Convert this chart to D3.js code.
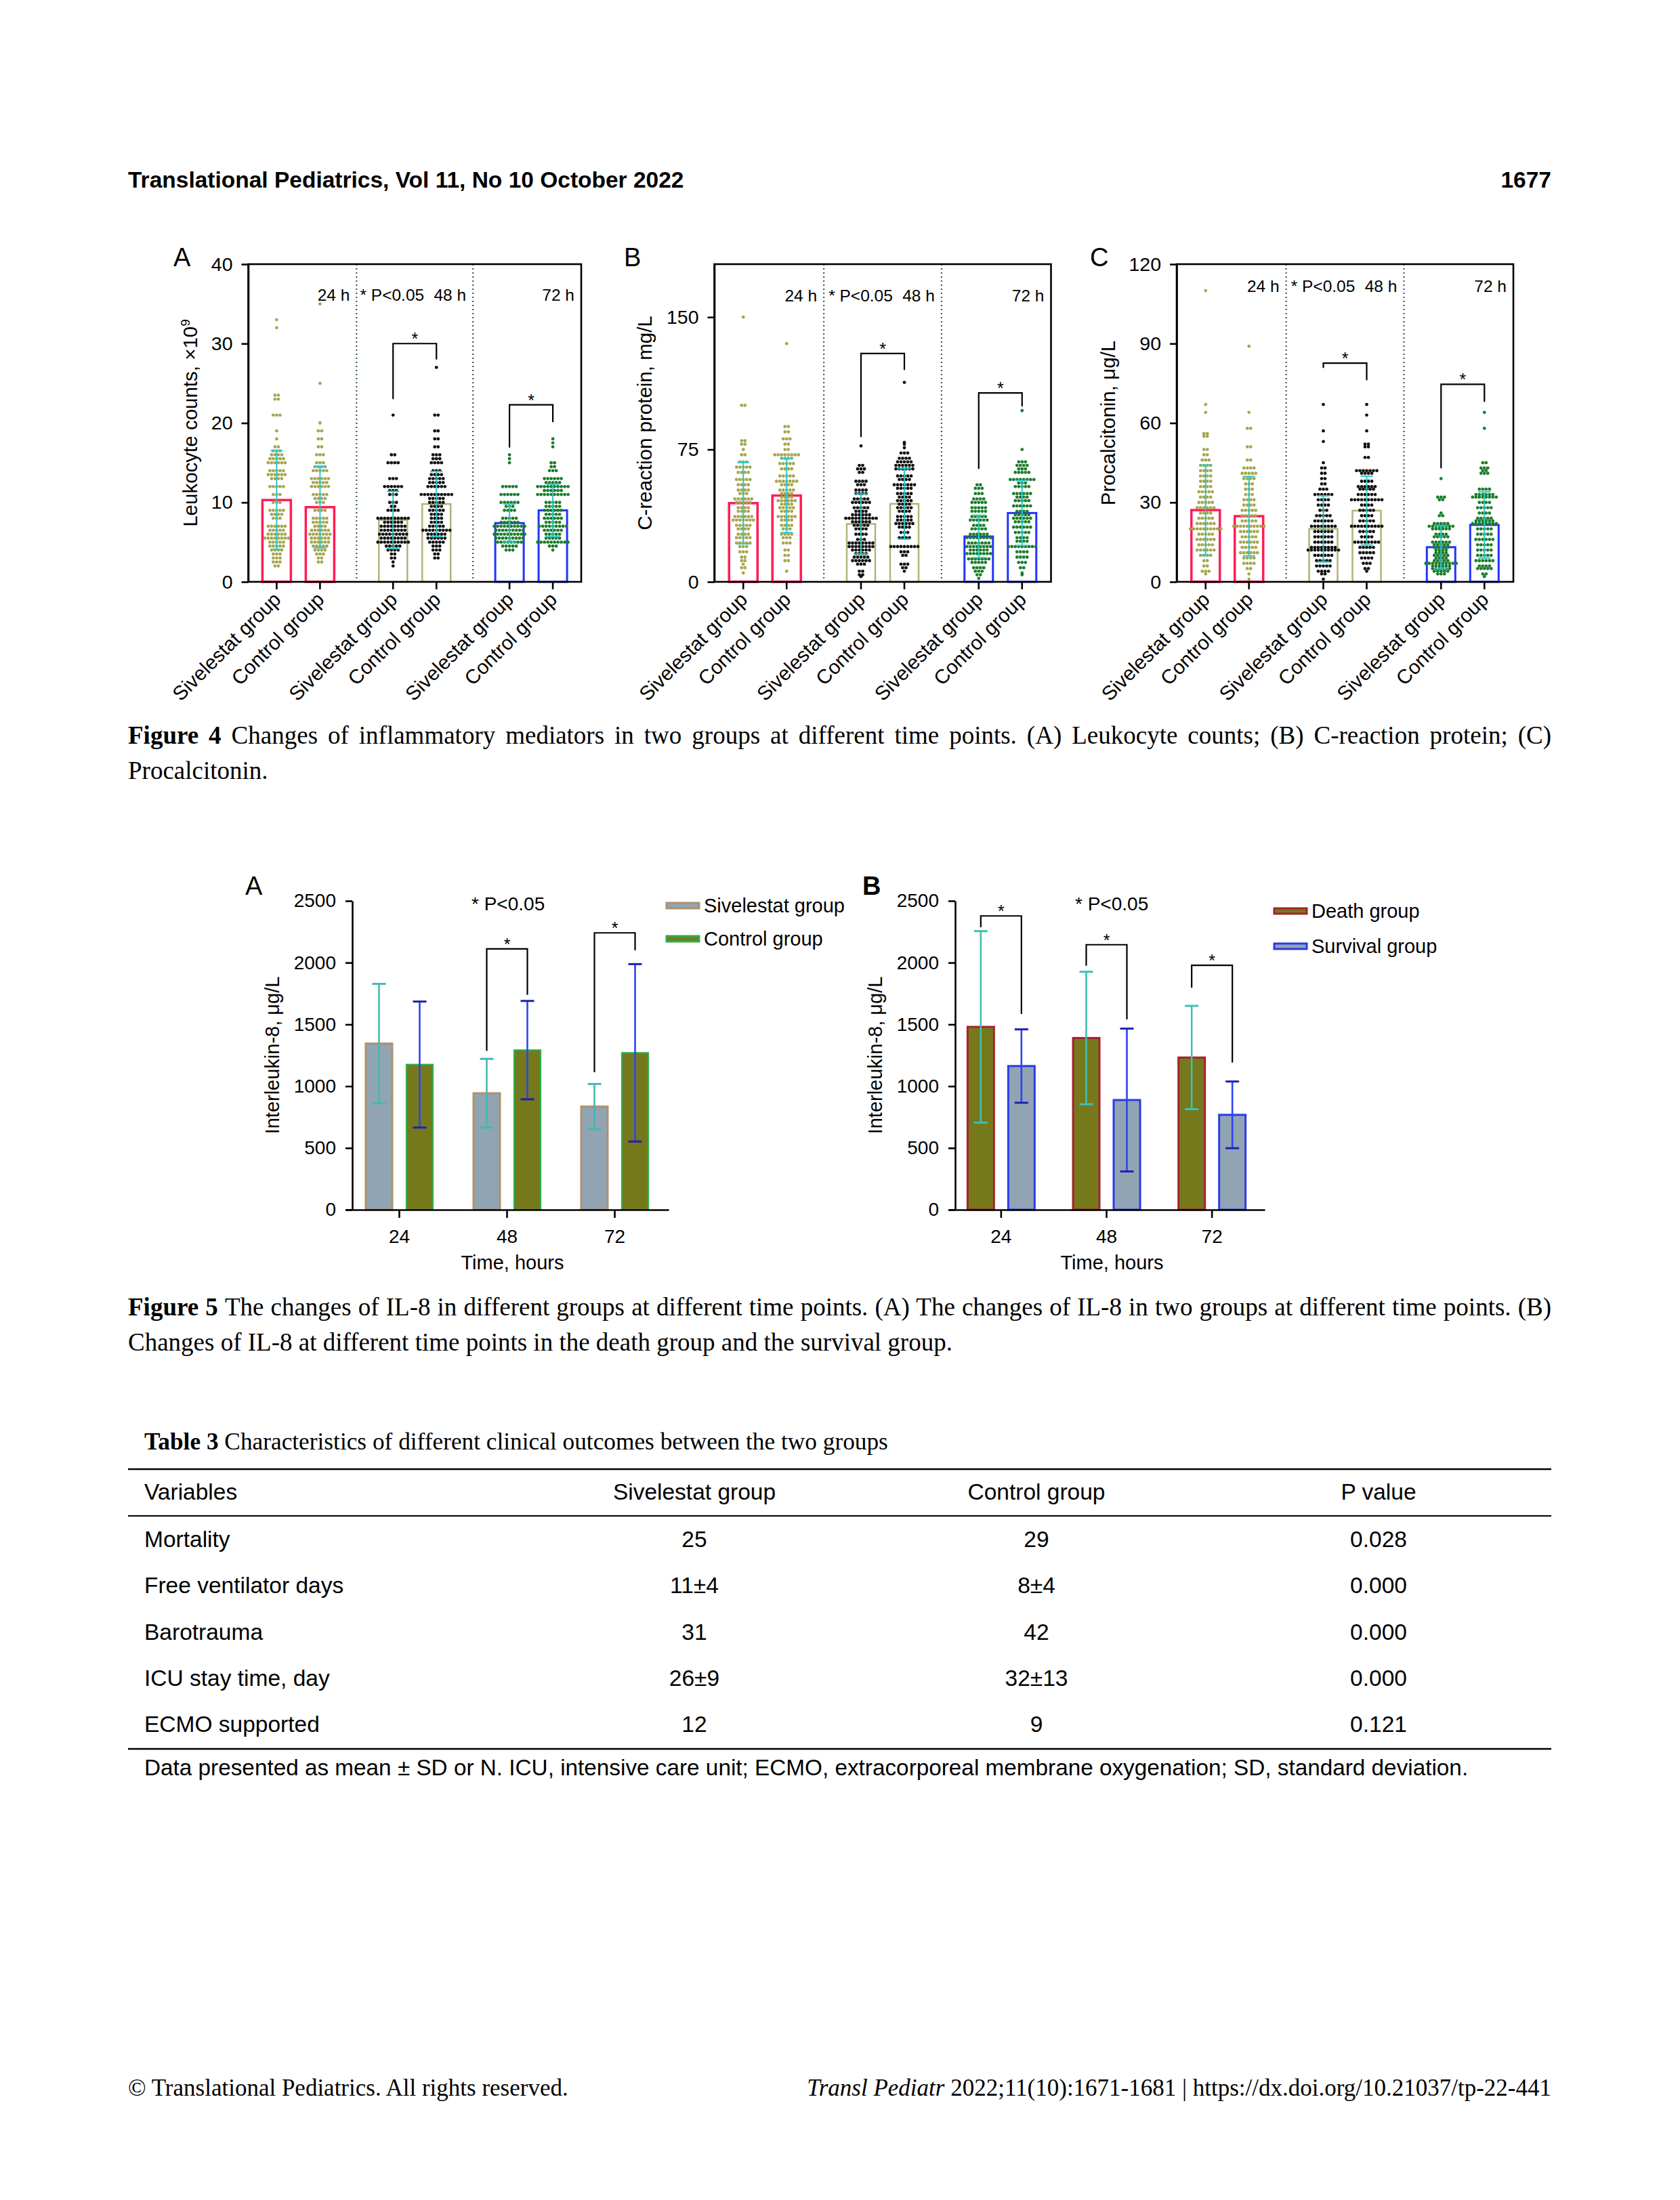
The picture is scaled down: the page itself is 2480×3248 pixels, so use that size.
<!DOCTYPE html>
<html>
<head>
<meta charset="utf-8">
<script src="https://cdn.jsdelivr.net/npm/d3@7"></script>
<style>
body{margin:0;background:#fff;}
svg{display:block;}
</style>
</head>
<body>
<script>
const SANS = 'Liberation Sans, Arial, Helvetica, sans-serif';
const SERIF = 'Liberation Serif, Times New Roman, serif';

// FIGURE 4 DATA
const timePoints = ['24 h', '48 h', '72 h'];
const groupNames = ['Sivelestat group', 'Control group'];

const leukTicks = [0, 10, 20, 30, 40];
const leukMeans = [[10.3, 9.4], [7.8, 9.8], [7.4, 9.0]];
const leukSD = [[6.2, 5.1], [3.6, 4.1], [2.4, 3.3]];
// [value, number of patients]
const leukSiv24 = [[33,1],[32,1],[23.5,2],[23,2],[21,3],[19,1],[18,1],[17,2],[16.5,3],[16,4],[15.5,5],[15,6],[14,5],[13.5,6],[13,4],[12,5],[11,3],[10,3],[9,5],[8.5,4],[8,3],[7,6],[6.5,5],[6,6],[5.5,8],[5,5],[4.5,5],[4,4],[3.5,3],[3,3],[2.5,3],[2,2]];
const leukCtrl24 = [[35,1],[25,1],[20,1],[19,2],[18,2],[17,2],[16,3],[15,3],[14.5,4],[14,5],[13,6],[12.5,5],[12,6],[11,5],[10.5,4],[10,3],[9,4],[8,5],[7.5,5],[7,4],[6.5,6],[6,7],[5.5,6],[5,6],[4.5,5],[4,4],[3.5,3],[3,2],[2.5,2]];
const leukSiv48 = [[21,1],[16,2],[15,4],[13,3],[12,6],[11.5,3],[11,3],[10,3],[9.5,2],[9,4],[8,10],[7.5,6],[7,8],[6.5,8],[6,9],[5.5,8],[5,10],[4.5,5],[4,4],[3.5,2],[3,2],[2.5,1],[2,1]];
const leukCtrl48 = [[27,1],[21,2],[19,2],[18,2],[17,2],[16,3],[15.5,3],[15,4],[14,3],[13.5,4],[13,5],[12.5,5],[12,6],[11,10],[10.5,5],[10,5],[9.5,4],[9,5],[8.5,4],[8,4],[7.5,4],[7,5],[6.5,9],[6,6],[5.5,6],[5,5],[4.5,3],[4,3],[3.5,2],[3,2]];
const leukSiv72 = [[16,1],[15.5,1],[15,1],[12,5],[11,6],[10,6],[9.5,3],[9,4],[8,5],[7.5,6],[7,10],[6.5,9],[6,10],[5.5,9],[5,8],[4.5,5],[4,3]];
const leukCtrl72 = [[18,1],[17.5,1],[17,1],[15,2],[14.5,2],[14,3],[13,6],[12.5,5],[12,10],[11.5,6],[11,10],[10,5],[9.5,5],[9,6],[8.5,5],[8,6],[7.5,5],[7,9],[6.5,6],[6,5],[5.5,5],[5,10],[4.5,3],[4,1]];
// [time index, bracket top, left leg end, right leg end]
const leukBrackets = [[1, 30, 23, 28], [2, 22.3, 16.9, 20.1]];

const crpTicks = [0, 75, 150];
const crpMeans = [[44.6, 48.9], [32.8, 44.2], [25.7, 39]];
const crpSD = [[23, 21], [17, 20], [12, 18.4]];
const crpSiv24 = [[150,1],[100,2],[80,2],[78,2],[75,1],[72,2],[68,3],[65,5],[62,4],[58,5],[55,4],[52,4],[50,3],[47,6],[45,5],[42,4],[40,4],[37,6],[35,7],[32,5],[30,4],[27,4],[25,5],[22,5],[20,3],[17,3],[14,2],[12,2],[10,1],[8,2],[5,1]];
const crpCtrl24 = [[135,1],[88,2],[85,2],[81,3],[78,2],[75,2],[72,8],[70,4],[67,5],[64,4],[60,5],[57,7],[55,4],[52,5],[50,4],[48,4],[46,6],[44,4],[42,5],[40,4],[37,6],[35,4],[32,4],[30,3],[27,4],[25,3],[22,3],[18,2],[15,2],[12,2],[6,1]];
const crpSiv48 = [[77,1],[66,2],[64,3],[62,2],[57,4],[55,3],[52,4],[50,4],[47,5],[45,6],[42,5],[40,4],[38,6],[36,10],[34,6],[32,5],[30,4],[27,4],[24,3],[22,8],[20,8],[18,6],[16,4],[14,5],[12,6],[10,3],[6,2],[4,2],[3,1]];
const crpCtrl48 = [[113,1],[79,1],[78,1],[76,1],[73,3],[70,4],[68,5],[66,6],[64,6],[60,5],[58,4],[55,7],[53,5],[50,5],[48,4],[46,5],[44,4],[42,5],[40,4],[37,5],[35,5],[33,6],[31,4],[28,3],[25,4],[20,9],[17,3],[15,2],[10,3],[8,2],[6,1]];
const crpSiv72 = [[55,2],[53,3],[50,3],[47,4],[45,5],[42,5],[40,5],[37,5],[35,6],[32,4],[30,5],[27,6],[25,8],[22,7],[20,8],[18,6],[16,8],[13,7],[11,5],[8,4],[6,3],[4,2],[2,1]];
const crpCtrl72 = [[97,1],[75,1],[68,3],[66,4],[64,3],[62,5],[58,8],[56,3],[54,5],[50,6],[48,4],[46,5],[43,6],[40,4],[38,5],[36,6],[34,5],[31,6],[28,5],[25,4],[23,4],[20,9],[17,4],[14,4],[11,3],[8,2],[5,1],[4,1]];
const crpBrackets = [[1, 129.4, 82, 120], [2, 107, 64, 99.4]];

const pctTicks = [0, 30, 60, 90, 120];
const pctMeans = [[27.1, 24.8], [20, 26.9], [13.1, 21.5]];
const pctSD = [[17, 15], [12.5, 13], [8, 12.5]];
const pctSiv24 = [[110,1],[67,1],[64,1],[56,2],[55,2],[50,2],[48,2],[46,3],[44,4],[42,4],[40,4],[38,4],[36,4],[34,5],[32,4],[30,5],[28,6],[26,4],[24,5],[22,6],[20,10],[18,5],[16,6],[14,5],[12,6],[10,4],[8,2],[6,2],[4,3],[3,1]];
const pctCtrl24 = [[89,1],[64,1],[58,2],[51,2],[46,2],[43,4],[41,5],[39,4],[37,3],[35,3],[33,3],[31,4],[29,4],[27,5],[25,5],[23,5],[21,10],[19,6],[17,5],[15,6],[13,5],[11,6],[9,4],[7,4],[5,2],[3,1],[1,1]];
const pctSiv48 = [[67,1],[57,1],[53,1],[45,1],[43,2],[41,2],[39,2],[37,2],[35,3],[33,6],[31,4],[29,4],[27,3],[25,5],[23,6],[21,8],[19,6],[17,6],[15,6],[13,8],[12,10],[10,6],[8,5],[6,5],[4,4],[3,2],[1,1]];
const pctCtrl48 = [[67,1],[63,1],[57,1],[52,2],[51,2],[47,2],[42,7],[41,4],[38,4],[36,6],[35,5],[33,6],[31,10],[29,4],[27,5],[25,4],[23,5],[21,10],[19,5],[17,4],[15,8],[13,5],[11,5],[9,4],[7,3],[5,2],[4,1]];
const pctSiv72 = [[39,1],[32,3],[31,2],[26,1],[25,2],[22,5],[21,8],[20,6],[18,4],[17,5],[15,6],[14,5],[13,5],[12,4],[11,4],[10,5],[9,4],[8,5],[7,10],[6,6],[5,6],[4,5],[3,3]];
const pctCtrl72 = [[64,1],[58,1],[45,2],[43,3],[42,2],[41,3],[35,4],[33,6],[32,8],[30,4],[28,5],[26,4],[24,5],[23,6],[22,8],[20,5],[18,5],[16,6],[14,5],[12,5],[10,5],[8,6],[6,4],[5,5],[3,2],[2,1]];
const pctBrackets = [[1, 82.6, 80.8, 76.2], [2, 74.6, 42.9, 68]];

// FIGURE 5 DATA
const il8Times = ['24', '48', '72'];
const il8Ticks = [0, 500, 1000, 1500, 2000, 2500];
const il8SivMean = [1345, 943, 835];
const il8SivSD = [483, 278, 183];
const il8CtrlMean = [1175, 1292, 1270];
const il8CtrlSD = [510, 398, 718];
const il8DeathMean = [1480, 1390, 1232];
const il8DeathSD = [775, 536, 418];
const il8SurvMean = [1163, 888, 768];
const il8SurvSD = [297, 578, 270];
const il8GroupBrackets = [[1, 2111, 1286, 1739], [2, 2241, 1113, 2100]];
const il8OutcomeBrackets = [[0, 2378, 2286, 1585], [1, 2145, 1975, 1540], [2, 1979, 1797, 1191]];

// TABLE 3 DATA
const tableHead = ['Variables', 'Sivelestat group', 'Control group', 'P value'];
const tableVars = ['Mortality', 'Free ventilator days', 'Barotrauma', 'ICU stay time, day', 'ECMO supported'];
const tableSiv = ['25', '11±4', '31', '26±9', '12'];
const tableCtrl = ['29', '8±4', '42', '32±13', '9'];
const tablePval = ['0.028', '0.000', '0.000', '0.000', '0.121'];

const svg = d3.select('body').append('svg')
    .attr('width', 2480)
    .attr('height', 3248)
    .style('background', '#fff');

// PAGE HEADER
svg.append('text')
    .attr('x', 189).attr('y', 277)
    .attr('font-family', SANS).attr('font-weight', 'bold').attr('font-size', 33.5)
    .text('Translational Pediatrics, Vol 11, No 10 October 2022');
svg.append('text')
    .attr('x', 2290).attr('y', 277).attr('text-anchor', 'end')
    .attr('font-family', SANS).attr('font-weight', 'bold').attr('font-size', 33.5)
    .text('1677');

const barColors = ['#ff1d52', '#b4b27a', '#2233ff'];
const barStrokes = [3.5, 2.5, 3];
const dotColors = ['#a6a650', '#111111', '#1b7d2b'];
const errColor = '#2ec8c8';

function drawScatterPanel(p) {
    const top = 390, bottom = 859;
    const g = svg.append('g');

    const x0 = d3.scalePoint().domain(timePoints).range([p.left, p.right]).padding(0.43);
    const x1 = d3.scalePoint().domain(groupNames).range([-32, 32]);
    const y = d3.scaleLinear().domain([0, p.yMax]).range([bottom, top]);
    const cx = (t, k) => x0(timePoints[t]) + x1(groupNames[k]);
    const sepX = i => (x0(timePoints[i]) + x0(timePoints[i + 1])) / 2;

    const cells = [];
    p.means.forEach((pair, t) => {
        pair.forEach((m, k) => {
            cells.push({t: t, k: k, mean: m, sd: p.sds[t][k], dots: p.dots[t][k]});
        });
    });

    g.selectAll('.sep')
        .data([0, 1])
        .enter()
        .append('line')
        .attr('x1', sepX).attr('x2', sepX)
        .attr('y1', top).attr('y2', bottom)
        .attr('stroke', '#3d5a66')
        .attr('stroke-width', 2.2)
        .attr('stroke-dasharray', '2 4');

    g.selectAll('.bar')
        .data(cells)
        .enter()
        .append('rect')
        .attr('x', d => cx(d.t, d.k) - 21)
        .attr('width', 42)
        .attr('y', d => y(d.mean))
        .attr('height', d => bottom - y(d.mean))
        .attr('fill', 'none')
        .attr('stroke', d => barColors[d.t])
        .attr('stroke-width', d => barStrokes[d.t]);

    cells.forEach(c => {
        const pts = [];
        c.dots.forEach(([v, n]) => {
            for (let i = 0; i < n; i++) pts.push({v: v, off: (i - (n - 1) / 2) * 5});
        });
        g.selectAll(null)
            .data(pts)
            .enter()
            .append('circle')
            .attr('cx', d => cx(c.t, c.k) + d.off)
            .attr('cy', d => y(d.v))
            .attr('r', 2.4)
            .attr('fill', dotColors[c.t]);
    });

    // MEAN +/- SD
    const err = g.selectAll('.err').data(cells).enter().append('g');
    err.append('line')
        .attr('x1', d => cx(d.t, d.k)).attr('x2', d => cx(d.t, d.k))
        .attr('y1', d => y(d.mean - d.sd)).attr('y2', d => y(d.mean + d.sd));
    err.append('line')
        .attr('x1', d => cx(d.t, d.k) - 9).attr('x2', d => cx(d.t, d.k) + 9)
        .attr('y1', d => y(d.mean + d.sd)).attr('y2', d => y(d.mean + d.sd));
    err.append('line')
        .attr('x1', d => cx(d.t, d.k) - 9).attr('x2', d => cx(d.t, d.k) + 9)
        .attr('y1', d => y(d.mean - d.sd)).attr('y2', d => y(d.mean - d.sd));
    err.selectAll('line').attr('stroke', errColor).attr('stroke-width', 2);

    g.append('rect')
        .attr('x', p.left).attr('y', top)
        .attr('width', p.right - p.left).attr('height', bottom - top)
        .attr('fill', 'none').attr('stroke', '#000').attr('stroke-width', 2.6);

    const yAxis = g.append('g')
        .attr('transform', `translate(${p.left},0)`)
        .call(d3.axisLeft(y).tickValues(p.ticks).tickSize(10).tickSizeOuter(0).tickPadding(13));
    yAxis.selectAll('path, line').attr('stroke', '#000').attr('stroke-width', 2.6);
    yAxis.selectAll('text').attr('font-family', SANS).attr('font-size', 28.5).attr('fill', '#000');

    g.selectAll('.xtick')
        .data(cells)
        .enter()
        .append('line')
        .attr('x1', d => cx(d.t, d.k)).attr('x2', d => cx(d.t, d.k))
        .attr('y1', bottom).attr('y2', bottom + 11)
        .attr('stroke', '#000').attr('stroke-width', 2.6);

    g.selectAll('.xlab')
        .data(cells)
        .enter()
        .append('text')
        .attr('transform', d => `translate(${cx(d.t, d.k) + 8},${bottom + 28}) rotate(-45)`)
        .attr('text-anchor', 'end')
        .attr('font-family', SANS).attr('font-size', 29.5)
        .text(d => groupNames[d.k]);

    const yt = g.append('text')
        .attr('transform', `translate(${p.titleX},${(top + bottom) / 2}) rotate(-90)`)
        .attr('text-anchor', 'middle')
        .attr('font-family', SANS).attr('font-size', 29.5)
        .text(p.yTitle);
    if (p.sup) {
        yt.append('tspan').attr('font-size', 19).attr('dy', -11).text(p.sup);
    }

    g.append('text')
        .attr('x', p.labelX).attr('y', 393)
        .attr('font-family', SANS).attr('font-size', 38)
        .text(p.label);

    // TIME POINT TAGS
    const tagRight = [sepX(0), sepX(1), p.right];
    g.selectAll('.tag')
        .data(timePoints)
        .enter()
        .append('text')
        .attr('x', (d, i) => tagRight[i] - 10)
        .attr('y', top + p.tagY)
        .attr('text-anchor', 'end')
        .attr('font-family', SANS).attr('font-size', 24.5)
        .text(d => d);
    g.append('text')
        .attr('x', tagRight[1] - 72)
        .attr('y', top + p.tagY)
        .attr('text-anchor', 'end')
        .attr('font-family', SANS).attr('font-size', 24.5)
        .text('* P<0.05');

    g.selectAll('.brk')
        .data(p.brackets)
        .enter()
        .append('path')
        .attr('d', d => `M${cx(d[0], 0)},${y(d[2])}V${y(d[1])}H${cx(d[0], 1)}V${y(d[3])}`)
        .attr('fill', 'none').attr('stroke', '#000').attr('stroke-width', 2.2);
    g.selectAll('.star')
        .data(p.brackets)
        .enter()
        .append('text')
        .attr('x', d => (cx(d[0], 0) + cx(d[0], 1)) / 2)
        .attr('y', d => y(d[1]) + 2)
        .attr('text-anchor', 'middle')
        .attr('font-family', SANS).attr('font-size', 25)
        .text('*');
}

drawScatterPanel({
    label: 'A', labelX: 256, left: 366.5, right: 858, yMax: 40, ticks: leukTicks,
    means: leukMeans, sds: leukSD,
    dots: [[leukSiv24, leukCtrl24], [leukSiv48, leukCtrl48], [leukSiv72, leukCtrl72]],
    brackets: leukBrackets, yTitle: 'Leukocyte counts, ×10', sup: '9', titleX: 291, tagY: 54
});
drawScatterPanel({
    label: 'B', labelX: 921, left: 1054.5, right: 1551.5, yMax: 180, ticks: crpTicks,
    means: crpMeans, sds: crpSD,
    dots: [[crpSiv24, crpCtrl24], [crpSiv48, crpCtrl48], [crpSiv72, crpCtrl72]],
    brackets: crpBrackets, yTitle: 'C-reaction protein, mg/L', titleX: 962, tagY: 55
});
drawScatterPanel({
    label: 'C', labelX: 1609, left: 1737, right: 2234, yMax: 120, ticks: pctTicks,
    means: pctMeans, sds: pctSD,
    dots: [[pctSiv24, pctCtrl24], [pctSiv48, pctCtrl48], [pctSiv72, pctCtrl72]],
    brackets: pctBrackets, yTitle: 'Procalcitonin, μg/L', titleX: 1646, tagY: 41
});

// CAPTIONS
function justifiedLine(x, y, boldPart, rest, width) {
    const t = svg.append('text')
        .attr('x', x).attr('y', y)
        .attr('font-family', SERIF).attr('font-size', 37);
    if (boldPart) t.append('tspan').attr('font-weight', 'bold').text(boldPart + ' ');
    t.append('tspan').text(rest);
    if (width) {
        const natural = t.node().getComputedTextLength();
        const spaces = ((boldPart ? boldPart + ' ' : '') + rest).split(' ').length - 1;
        t.attr('word-spacing', (width - natural) / spaces);
    }
    return t;
}

justifiedLine(189, 1098, 'Figure 4', 'Changes of inflammatory mediators in two groups at different time points. (A) Leukocyte counts; (B) C-reaction protein; (C)', 2101);
justifiedLine(189, 1150, null, 'Procalcitonin.');

const il8Colors = {
    siv: {fill: '#91a4b4', stroke: '#b0916a', sw: 3, err: '#45b8ae', cap: '#45b8ae'},
    ctrl: {fill: '#76781c', stroke: '#2fae4a', sw: 2.2, err: '#2b45f5', cap: '#1b22b0'},
    death: {fill: '#76781c', stroke: '#a3232e', sw: 3, err: '#3fc0b2', cap: '#3fc0b2'},
    surv: {fill: '#91a4b4', stroke: '#2b3be6', sw: 3, err: '#2b45f5', cap: '#1b22b0'}
};

function drawBarPanel(p) {
    const y0 = 1786, y1 = 1330;
    const g = svg.append('g');
    const y = d3.scaleLinear().domain([0, 2500]).range([y0, y1]);
    const xb = d3.scaleBand().domain(il8Times).range([p.left - 10, p.left + p.axisLen]);
    const centre = t => xb(t) + xb.bandwidth() / 2;

    const cells = [];
    p.series.forEach((s, k) => {
        s.means.forEach((m, i) => {
            cells.push({t: il8Times[i], mean: m, sd: s.sds[i], col: s.col, off: k === 0 ? -30 : 30});
        });
    });

    g.selectAll('.bar')
        .data(cells)
        .enter()
        .append('rect')
        .attr('x', d => centre(d.t) + d.off - 19.5)
        .attr('width', 39)
        .attr('y', d => y(d.mean))
        .attr('height', d => y0 - y(d.mean))
        .attr('fill', d => d.col.fill)
        .attr('stroke', d => d.col.stroke)
        .attr('stroke-width', d => d.col.sw);

    const err = g.selectAll('.err').data(cells).enter().append('g');
    err.append('line')
        .attr('x1', d => centre(d.t) + d.off).attr('x2', d => centre(d.t) + d.off)
        .attr('y1', d => y(d.mean - d.sd)).attr('y2', d => y(d.mean + d.sd))
        .attr('stroke', d => d.col.err).attr('stroke-width', 2.6);
    [1, -1].forEach(sign => {
        err.append('line')
            .attr('x1', d => centre(d.t) + d.off - 10).attr('x2', d => centre(d.t) + d.off + 10)
            .attr('y1', d => y(d.mean + sign * d.sd)).attr('y2', d => y(d.mean + sign * d.sd))
            .attr('stroke', d => d.col.cap).attr('stroke-width', 3);
    });

    const yAxis = g.append('g')
        .attr('transform', `translate(${p.left},0)`)
        .call(d3.axisLeft(y).tickValues(il8Ticks).tickFormat(d3.format('d'))
            .tickSize(10).tickSizeOuter(0).tickPadding(14));
    const xAxis = g.append('g')
        .attr('transform', `translate(0,${y0})`)
        .call(d3.axisBottom(xb).tickSize(12).tickSizeOuter(0).tickPadding(17));
    [yAxis, xAxis].forEach(a => {
        a.selectAll('path, line').attr('stroke', '#000').attr('stroke-width', 2.6);
        a.selectAll('text').attr('font-family', SANS).attr('font-size', 28).attr('fill', '#000');
    });

    g.append('text')
        .attr('x', centre('48') + 8).attr('y', 1874)
        .attr('text-anchor', 'middle')
        .attr('font-family', SANS).attr('font-size', 29)
        .text('Time, hours');

    g.append('text')
        .attr('transform', `translate(${p.titleX},${(y0 + y1) / 2}) rotate(-90)`)
        .attr('text-anchor', 'middle')
        .attr('font-family', SANS).attr('font-size', 29)
        .text('Interleukin-8, μg/L');

    g.append('text')
        .attr('x', p.labelX).attr('y', 1321)
        .attr('font-family', SANS).attr('font-size', 38).attr('font-weight', p.labelWeight)
        .text(p.label);

    g.append('text')
        .attr('x', p.noteX).attr('y', 1344)
        .attr('font-family', SANS).attr('font-size', 28)
        .text('* P<0.05');

    g.selectAll('.brk')
        .data(p.brackets)
        .enter()
        .append('path')
        .attr('d', d => `M${centre(il8Times[d[0]]) - 30},${y(d[2])}V${y(d[1])}H${centre(il8Times[d[0]]) + 30}V${y(d[3])}`)
        .attr('fill', 'none').attr('stroke', '#000').attr('stroke-width', 2.2);
    g.selectAll('.star')
        .data(p.brackets)
        .enter()
        .append('text')
        .attr('x', d => centre(il8Times[d[0]]))
        .attr('y', d => y(d[1]) + 2)
        .attr('text-anchor', 'middle')
        .attr('font-family', SANS).attr('font-size', 25)
        .text('*');

    // LEGEND
    const leg = g.selectAll('.leg')
        .data(p.series)
        .enter()
        .append('g')
        .attr('transform', (d, i) => `translate(${p.legendX},${p.legendY + i * p.legendGap})`);
    leg.append('rect')
        .attr('x', 0).attr('y', -4).attr('width', 48).attr('height', 8)
        .attr('fill', d => d.col.fill)
        .attr('stroke', d => d.col.stroke)
        .attr('stroke-width', 3);
    leg.append('text')
        .attr('x', 55).attr('y', 10)
        .attr('font-family', SANS).attr('font-size', 29)
        .text(d => d.name);
}

drawBarPanel({
    label: 'A', labelX: 362, labelWeight: 'normal', left: 520, axisLen: 467, titleX: 412, noteX: 696,
    legendX: 984, legendY: 1337, legendGap: 49,
    series: [
        {name: 'Sivelestat group', means: il8SivMean, sds: il8SivSD, col: il8Colors.siv},
        {name: 'Control group', means: il8CtrlMean, sds: il8CtrlSD, col: il8Colors.ctrl}
    ],
    brackets: il8GroupBrackets
});
drawBarPanel({
    label: 'B', labelX: 1273, labelWeight: 'bold', left: 1410, axisLen: 457, titleX: 1302, noteX: 1587,
    legendX: 1881, legendY: 1345, legendGap: 52,
    series: [
        {name: 'Death group', means: il8DeathMean, sds: il8DeathSD, col: il8Colors.death},
        {name: 'Survival group', means: il8SurvMean, sds: il8SurvSD, col: il8Colors.surv}
    ],
    brackets: il8OutcomeBrackets
});

justifiedLine(189, 1942, 'Figure 5', 'The changes of IL-8 in different groups at different time points. (A) The changes of IL-8 in two groups at different time points. (B)', 2101);
justifiedLine(189, 1994, null, 'Changes of IL-8 at different time points in the death group and the survival group.');

// TABLE 3
const tableTitle = svg.append('text')
    .attr('x', 213).attr('y', 2140)
    .attr('font-family', SERIF).attr('font-size', 35.3);
tableTitle.append('tspan').attr('font-weight', 'bold').text('Table 3 ');
tableTitle.append('tspan').text('Characteristics of different clinical outcomes between the two groups');

svg.selectAll('.rule')
    .data([[2169, 2.6], [2238, 1.8], [2582, 2.6]])
    .enter()
    .append('line')
    .attr('x1', 189).attr('x2', 2290)
    .attr('y1', d => d[0]).attr('y2', d => d[0])
    .attr('stroke', '#000').attr('stroke-width', d => d[1]);

const colX = [213, 1025, 1530, 2035];
const colAnchor = ['start', 'middle', 'middle', 'middle'];
const rowY = i => 2284 + i * 68.3;

svg.selectAll('.th')
    .data(tableHead)
    .enter()
    .append('text')
    .attr('x', (d, i) => colX[i]).attr('y', 2214)
    .attr('text-anchor', (d, i) => colAnchor[i])
    .attr('font-family', SANS).attr('font-size', 33.5)
    .text(d => d);

const tableRows = tableVars.map((v, i) => [v, tableSiv[i], tableCtrl[i], tablePval[i]]);
tableRows.forEach((row, r) => {
    svg.selectAll(null)
        .data(row)
        .enter()
        .append('text')
        .attr('x', (d, i) => colX[i]).attr('y', rowY(r))
        .attr('text-anchor', (d, i) => colAnchor[i])
        .attr('font-family', SANS).attr('font-size', 33.5)
        .text(d => d);
});

svg.append('text')
    .attr('x', 213).attr('y', 2621)
    .attr('font-family', SANS).attr('font-size', 33.3)
    .text('Data presented as mean ± SD or N. ICU, intensive care unit; ECMO, extracorporeal membrane oxygenation; SD, standard deviation.');

// FOOTER
svg.append('text')
    .attr('x', 189).attr('y', 3094)
    .attr('font-family', SERIF).attr('font-size', 35)
    .text('© Translational Pediatrics. All rights reserved.');
const foot = svg.append('text')
    .attr('x', 2290).attr('y', 3094).attr('text-anchor', 'end')
    .attr('font-family', SERIF).attr('font-size', 35);
foot.append('tspan').attr('font-style', 'italic').text('Transl Pediatr');
foot.append('tspan').text(' 2022;11(10):1671-1681 | https://dx.doi.org/10.21037/tp-22-441');
</script>
</body>
</html>
